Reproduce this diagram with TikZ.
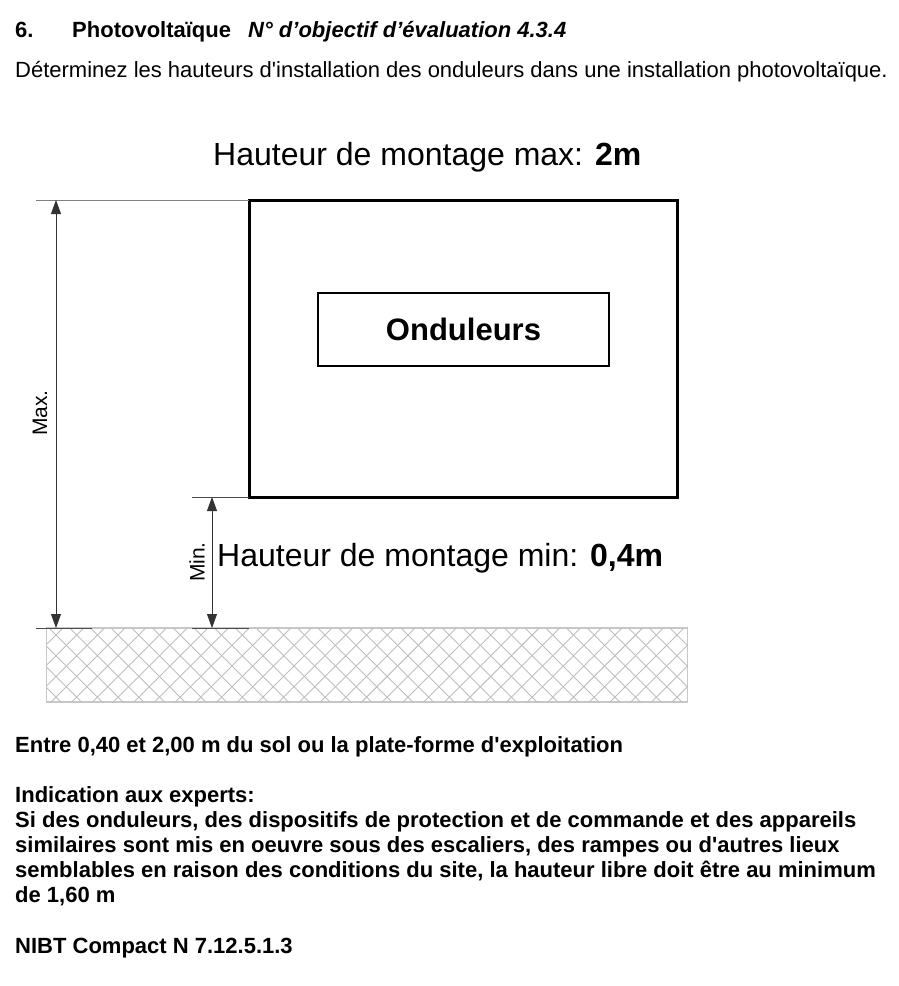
\documentclass[tikz,border=0pt]{standalone}
\usepackage{fontspec}
\setmainfont{Liberation Sans}[Ligatures=TeXOff]
\usetikzlibrary{arrows.meta}
\begin{document}
\begin{tikzpicture}[x=1pt,y=-1pt,
  txt/.style={anchor=base west, inner sep=0pt, font=\fontsize{22}{24}\selectfont},
  btxt/.style={txt, font=\bfseries\fontsize{22}{24}\selectfont},
  dim/.style={draw=black!80, line width=0.8pt, {Triangle[length=14pt,width=10pt]}-{Triangle[length=14pt,width=10pt]}},
  ext/.style={draw=black!50, line width=1pt},
  hatch/.style={draw=black!25, line width=0.9pt},
  vlabel/.style={rotate=90, inner sep=0pt, font=\fontsize{21}{23}\selectfont}]
\useasboundingbox (0,0) rectangle (898,986);
% header
\node[btxt] (num) at (15,37) {6.};
\node[btxt] (ttl) at (72,37) {Photovoltaïque};
\node[btxt, font=\bfseries\itshape\fontsize{22}{24}\selectfont] (obj) at (248,37) {N° d’objectif d’évaluation 4.3.4};
\node[txt] (q) at (15,77) {Déterminez les hauteurs d'installation des onduleurs dans une installation photovoltaïque.};
% heading max
\node[txt, font=\fontsize{32}{34}\selectfont] (hmax) at (213,165) {Hauteur de montage max: \textbf{2m}};
% boxes
\node[draw, line width=3pt, minimum width=428pt, minimum height=297pt, anchor=north west, inner sep=0pt, outer sep=0pt] (box) at (249,200) {};
\node[draw, line width=1.3pt, minimum width=291pt, minimum height=73pt, inner sep=0pt, outer sep=0pt, font=\bfseries\fontsize{31}{34}\selectfont] (ond) at (463.5,329.5) {Onduleurs};
% ground
\node[draw=black!22, line width=1.6pt, minimum width=641pt, minimum height=74pt, anchor=north west, inner sep=0pt, outer sep=0pt] (ground) at (46.5,628) {};
\begin{scope}
\clip (ground.north west) rectangle (ground.south east);
\foreach \k in {-5,...,33} { \draw[hatch] ({49+20.7*\k},628) -- ++(80,80); }
\foreach \k in {-1,...,36} { \draw[hatch] ({63+20.7*\k},628) -- ++(-80,80); }
\end{scope}
% dimension coordinates
\coordinate (e1) at (36,200);
\coordinate (maxtop) at (56,200);
\coordinate (maxbot) at (56,628);
\coordinate (e2) at (36,628);
\coordinate (e3) at (92,628);
\coordinate (e4) at (192,497);
\coordinate (mintop) at (212,497);
\coordinate (minbot) at (212,628);
\coordinate (e5) at (192,628);
\coordinate (e6) at (249,628);
\draw[ext] (e1) -- (box.north west);
\draw[ext, draw=black!70] (e2) -- (e3);
\draw[ext, draw=black!70] (e4) -- (box.south west);
\draw[ext, draw=black!70] (e5) -- (e6);
\draw[dim] (maxtop) -- (maxbot);
\draw[dim] (mintop) -- (minbot);
\node[vlabel] (maxl) at (40,413) {Max.};
\node[vlabel] (minl) at (197,562) {Min.};
\node[txt, font=\fontsize{32}{34}\selectfont] (hmin) at (217,566) {Hauteur de montage min: \textbf{0,4m}};
% bottom text
\node[btxt] (b1) at (15,752) {Entre 0,40 et 2,00 m du sol ou la plate-forme d'exploitation};
\node[btxt] (b2) at (15,802) {Indication aux experts:};
\node[btxt] (b3) at (15,827) {Si des onduleurs, des dispositifs de protection et de commande et des appareils};
\node[btxt] (b4) at (15,852) {similaires sont mis en oeuvre sous des escaliers, des rampes ou d'autres lieux};
\node[btxt] (b5) at (15,877) {semblables en raison des conditions du site, la hauteur libre doit être au minimum};
\node[btxt] (b6) at (15,902) {de 1,60 m};
\node[btxt] (b7) at (15,953) {NIBT Compact N 7.12.5.1.3};
\end{tikzpicture}
\end{document}
